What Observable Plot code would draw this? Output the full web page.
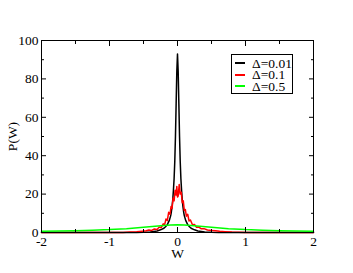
<!DOCTYPE html>
<html><head><meta charset="utf-8">
<script src="https://cdn.jsdelivr.net/npm/d3@7"></script>
<script src="https://cdn.jsdelivr.net/npm/@observablehq/plot@0.6"></script>
<style>
body{margin:0;background:#fff;}
#wrap{position:relative;width:353px;height:273px;font-family:"Liberation Serif","Times New Roman",serif;}
#legend{position:absolute;left:231px;top:54px;width:62px;height:40px;border:1px solid #000;background:#fff;box-sizing:border-box;}
#legend .row{position:absolute;left:3px;height:11.5px;display:flex;align-items:center;font-size:13.5px;line-height:11.5px;white-space:nowrap;}
#legend .sw{display:inline-block;width:10px;height:2px;margin-right:7px;}
#legend .lbl{display:inline-block;height:11.5px;line-height:11.5px;overflow:visible;}
</style>
</head><body><div id="wrap"></div>
<script>
const seriesNames = ["Δ=0.01", "Δ=0.1", "Δ=0.5"];
const seriesColors = ["#000000", "#ff0000", "#00ff00"];

const blackW = [-2, -1, -0.6, -0.5, -0.4, -0.3, -0.25, -0.2, -0.18, -0.15, -0.12, -0.1, -0.09, -0.08, -0.07, -0.06, -0.05, -0.04, -0.03, -0.02, -0.01, 0,
  0.01, 0.02, 0.03, 0.04, 0.05, 0.06, 0.07, 0.08, 0.09, 0.1, 0.12, 0.15, 0.18, 0.2, 0.25, 0.3, 0.4, 0.5, 0.6, 1, 2];
const blackP = [0, 0, 0.05, 0.1, 0.3, 0.8, 1.4, 2.2, 2.9, 4.1, 6.3, 8.8, 10.8, 13.4, 17, 22, 28, 37, 50, 67, 84, 93,
  84, 67, 50, 37, 28, 22, 17, 13.4, 10.8, 8.8, 6.3, 4.1, 2.9, 2.2, 1.4, 0.8, 0.3, 0.1, 0.05, 0, 0];

const redW = [-2, -1, -0.8, -0.7, -0.6, -0.52, -0.46, -0.42, -0.38, -0.34, -0.3, -0.27, -0.24, -0.21, -0.19, -0.17, -0.15, -0.13, -0.11, -0.095, -0.08, -0.065, -0.05, -0.035, -0.02, -0.01, 0,
  0.01, 0.025, 0.04, 0.055, 0.07, 0.085, 0.1, 0.115, 0.13, 0.15, 0.17, 0.19, 0.22, 0.25, 0.28, 0.31, 0.35, 0.39, 0.44, 0.5, 0.56, 0.62, 0.7, 0.8, 1, 2];
const redP = [0, 0.02, 0.05, 0.2, 0.4, 0.7, 0.9, 1.3, 1.1, 1.8, 1.6, 2.8, 2.5, 4.5, 4.0, 7.0, 6.2, 10.5, 9.5, 13.5, 12.5, 18, 16.5, 22, 19.5, 24, 18.5,
  19, 25, 20, 21, 15.5, 16.5, 11.5, 12, 8.5, 9.5, 6, 6.5, 4, 4.2, 2.7, 2.9, 1.9, 2.0, 1.3, 1.1, 0.9, 0.6, 0.4, 0.2, 0.05, 0];

const greenW = [-2, -1.75, -1.5, -1.25, -1, -0.75, -0.5, -0.33, -0.2, -0.1, 0, 0.1, 0.2, 0.33, 0.5, 0.75, 1, 1.25, 1.5, 1.75, 2];
const greenP = [0.6, 0.75, 0.95, 1.2, 1.5, 2.0, 2.7, 3.3, 3.7, 3.9, 4.0, 3.9, 3.7, 3.3, 2.7, 2.0, 1.5, 1.2, 0.95, 0.75, 0.6];

const xMajor = [-2, -1, 0, 1, 2];
const xMinor = [-1.5, -0.5, 0.5, 1.5];
const yMajor = [0, 20, 40, 60, 80, 100];
const yMinor = [10, 30, 50, 70, 90];

const series = [
  blackW.map((w, i) => ({w, p: blackP[i], s: seriesNames[0]})),
  redW.map((w, i) => ({w, p: redP[i], s: seriesNames[1]})),
  greenW.map((w, i) => ({w, p: greenP[i], s: seriesNames[2]}))
];

const fmt = d => String(d);
const tickOpts = {stroke: "#000", strokeWidth: 1};

const chart = Plot.plot({
  width: 353,
  height: 273,
  marginLeft: 41,
  marginRight: 40,
  marginTop: 40,
  marginBottom: 41,
  style: {fontFamily: "'Liberation Serif', 'Times New Roman', serif", background: "#fff", color: "#000"},
  x: {domain: [-2, 2]},
  y: {domain: [0, 100]},
  marks: [
    series.map((d, i) => Plot.line(d, {x: "w", y: "p", stroke: seriesColors[i], strokeWidth: 1.5})),
    Plot.axisX(xMajor, {anchor: "bottom", tickSize: -5, tickFormat: () => "", label: null, ...tickOpts}),
    Plot.axisX(xMinor, {anchor: "bottom", tickSize: -3, tickFormat: () => "", label: null, ...tickOpts}),
    Plot.axisX(xMajor, {anchor: "top", tickSize: -5, tickFormat: () => "", label: null, ...tickOpts}),
    Plot.axisX(xMinor, {anchor: "top", tickSize: -3, tickFormat: () => "", label: null, ...tickOpts}),
    Plot.axisY(yMajor, {anchor: "left", tickSize: -5, tickFormat: () => "", label: null, ...tickOpts}),
    Plot.axisY(yMinor, {anchor: "left", tickSize: -3, tickFormat: () => "", label: null, ...tickOpts}),
    Plot.axisY(yMajor, {anchor: "right", tickSize: -5, tickFormat: () => "", label: null, ...tickOpts}),
    Plot.axisY(yMinor, {anchor: "right", tickSize: -3, tickFormat: () => "", label: null, ...tickOpts}),
    Plot.axisX(xMajor, {anchor: "bottom", tickSize: 0, tickPadding: 4, tickFormat: fmt, fontSize: 13.5,
      label: "W", labelAnchor: "center", labelArrow: "none", labelOffset: 25}),
    Plot.axisY(yMajor, {anchor: "left", tickSize: 0, tickPadding: 3, tickFormat: fmt, fontSize: 13.5,
      label: "P(W)", labelAnchor: "center", labelArrow: "none", labelOffset: 34}),
    Plot.frame({stroke: "#000", strokeWidth: 1})
  ]
});
chart.style.fontSize = "13.5px";
document.getElementById("wrap").appendChild(chart);

const lg = document.createElement("div");
lg.id = "legend";
seriesNames.forEach((n, i) => {
  const r = document.createElement("div");
  r.className = "row";
  r.style.top = (2.5 + i * 11.5) + "px";
  const sw = document.createElement("span");
  sw.className = "sw";
  sw.style.background = seriesColors[i];
  const lb = document.createElement("span");
  lb.className = "lbl";
  lb.textContent = n;
  r.appendChild(sw);
  r.appendChild(lb);
  lg.appendChild(r);
});
document.getElementById("wrap").appendChild(lg);
</script>
</body></html>
